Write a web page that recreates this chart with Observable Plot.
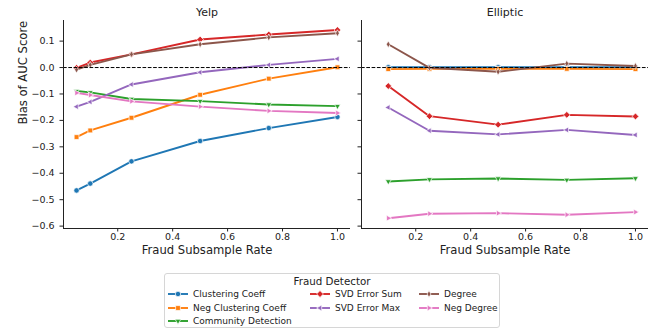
<!DOCTYPE html>
<html>
<head>
<meta charset="utf-8">
<script src="https://cdn.jsdelivr.net/npm/d3@7"></script>
<script src="https://cdn.jsdelivr.net/npm/@observablehq/plot@0.6"></script>
<style>
  html, body { margin: 0; padding: 0; background: #fff; }
  #wrap { position: relative; width: 670px; height: 331px; font-family: "DejaVu Sans", sans-serif; color: #222; }
  #left { position: absolute; left: 0; top: 0; }
  #right { position: absolute; left: 355px; top: 0; }
  #legend { position: absolute; left: 164px; top: 273px; width: 336px; height: 55px; border: 1px solid #d6d6d6; border-radius: 3px; box-sizing: border-box; background: #fff; }
  .lt { position: absolute; font-size: 10.3px; white-space: nowrap; }
  .le { position: absolute; font-size: 9px; white-space: nowrap; line-height: 12px; }
  .lh { position: absolute; }
</style>
</head>
<body>
<div id="wrap">
  <div id="left"></div>
  <div id="right"></div>
  <div id="legend"></div>
</div>
<script>
// ---------------- data ----------------
const detectors = ["Clustering Coeff", "Neg Clustering Coeff", "Community Detection", "SVD Error Sum", "SVD Error Max", "Degree", "Neg Degree"];
const colors = ["#1f77b4", "#ff7f0e", "#2ca02c", "#d62728", "#9467bd", "#8c564b", "#e377c2"];

const yelpRates = [0.05, 0.1, 0.25, 0.5, 0.75, 1.0];
const yelpClustering    = [-0.465, -0.439, -0.355, -0.278, -0.229, -0.187];
const yelpNegClustering = [-0.263, -0.238, -0.190, -0.103, -0.042, 0.001];
const yelpCommunity     = [-0.089, -0.094, -0.119, -0.127, -0.140, -0.146];
const yelpSvdSum        = [-0.001, 0.019, 0.050, 0.106, 0.125, 0.142];
const yelpSvdMax        = [-0.148, -0.130, -0.064, -0.018, 0.010, 0.033];
const yelpDegree        = [-0.008, 0.010, 0.050, 0.088, 0.114, 0.130];
const yelpNegDegree     = [-0.096, -0.104, -0.128, -0.148, -0.164, -0.172];

const ellRates = [0.1, 0.25, 0.5, 0.75, 1.0];
const ellClustering    = [0.001, 0.001, 0.001, 0.001, 0.001];
const ellNegClustering = [-0.006, -0.005, -0.005, -0.005, -0.006];
const ellCommunity     = [-0.431, -0.423, -0.420, -0.425, -0.419];
const ellSvdSum        = [-0.070, -0.184, -0.216, -0.179, -0.185];
const ellSvdMax        = [-0.151, -0.239, -0.253, -0.236, -0.255];
const ellDegree        = [0.088, -0.001, -0.016, 0.015, 0.006];
const ellNegDegree     = [-0.570, -0.553, -0.551, -0.557, -0.547];

const xTicks = [0.2, 0.4, 0.6, 0.8, 1.0];
const yTicks = [-0.6, -0.5, -0.4, -0.3, -0.2, -0.1, 0.0, 0.1];

const yelpSeries = [yelpClustering, yelpNegClustering, yelpCommunity, yelpSvdSum, yelpSvdMax, yelpDegree, yelpNegDegree];
const ellSeries = [ellClustering, ellNegClustering, ellCommunity, ellSvdSum, ellSvdMax, ellDegree, ellNegDegree];

// ---------------- marker symbols ----------------
function poly(ctx, pts) {
  ctx.moveTo(pts[0][0], pts[0][1]);
  for (let i = 1; i < pts.length; i++) ctx.lineTo(pts[i][0], pts[i][1]);
  ctx.closePath();
}
const symDown = { draw(ctx, size) { const R = Math.sqrt(size / Math.PI); poly(ctx, [[0, 1.3 * R], [-1.12 * R, -0.65 * R], [1.12 * R, -0.65 * R]]); } };
const symLeft = { draw(ctx, size) { const R = Math.sqrt(size / Math.PI); poly(ctx, [[-1.3 * R, 0], [0.65 * R, -1.12 * R], [0.65 * R, 1.12 * R]]); } };
const symRight = { draw(ctx, size) { const R = Math.sqrt(size / Math.PI); poly(ctx, [[1.3 * R, 0], [-0.65 * R, -1.12 * R], [-0.65 * R, 1.12 * R]]); } };
const symDiamond = { draw(ctx, size) { const R = Math.sqrt(size / Math.PI); poly(ctx, [[0, -1.3 * R], [1.3 * R, 0], [0, 1.3 * R], [-1.3 * R, 0]]); } };
const symThin = { draw(ctx, size) { const R = Math.sqrt(size / Math.PI); poly(ctx, [[0, -1.3 * R], [0.75 * R, 0], [0, 1.3 * R], [-0.75 * R, 0]]); } };
const symbols = ["circle", "square", symDown, symDiamond, symLeft, symThin, symRight];
const symR = [2.7, 2.7, 2.6, 2.6, 2.6, 2.6, 2.6];

const xDomain = [0.0025, 1.0475];
const yDomain = [-0.609, 0.178];
const fmt = d3.format(".1f");

function seriesMarks(rates, series) {
  const marks = [];
  series.forEach((vals, i) => {
    const data = rates.map((x, j) => ({ x, y: vals[j] }));
    marks.push(Plot.line(data, { x: "x", y: "y", stroke: colors[i], strokeWidth: 1.9 }));
    marks.push(Plot.dot(data, { x: "x", y: "y", fill: colors[i], stroke: "white", strokeWidth: 0.7, r: symR[i], symbol: () => symbols[i] }));
  });
  return marks;
}

function panel({ title, rates, series, width, marginLeft, marginRight, showYLabels }) {
  return Plot.plot({
    width, height: 260,
    marginLeft, marginRight, marginTop: 20, marginBottom: 32,
    x: { domain: xDomain },
    y: { domain: yDomain },
    symbol: { type: "identity" },
    style: { fontFamily: "DejaVu Sans, sans-serif", fontSize: "9.5px", color: "#222", background: "transparent" },
    marks: [
      ...seriesMarks(rates, series),
      Plot.ruleY([0], { stroke: "black", strokeWidth: 1, strokeDasharray: "3.7,1.6" }),
      Plot.ruleX([xDomain[0]], { stroke: "#222", strokeWidth: 1 }),
      Plot.ruleY([yDomain[0]], { stroke: "#222", strokeWidth: 1 }),
      Plot.axisX({ ticks: xTicks, tickSize: 3.5, tickPadding: 1.5, tickFormat: fmt, label: null, stroke: "#222" }),
      Plot.axisY({ ticks: yTicks, tickSize: 3.5, tickFormat: showYLabels ? fmt : () => "", label: null, stroke: "#222" }),
      Plot.text([title], { text: d => d, frameAnchor: "top", lineAnchor: "middle", dy: -8.5, fontSize: 11, fill: "#222" }),
      Plot.text(["Fraud Subsample Rate"], { text: d => d, frameAnchor: "bottom", lineAnchor: "middle", dy: 22, fontSize: 11.6, fill: "#222" }),
      ...(showYLabels ? [Plot.text(["Bias of AUC Score"], { text: d => d, frameAnchor: "left", lineAnchor: "middle", dx: -40, rotate: -90, fontSize: 11.6, fill: "#222" })] : [])
    ]
  });
}

document.getElementById("left").append(panel({ title: "Yelp", rates: yelpRates, series: yelpSeries, width: 355, marginLeft: 63, marginRight: 5, showYLabels: true }));
document.getElementById("right").append(panel({ title: "Elliptic", rates: ellRates, series: ellSeries, width: 315, marginLeft: 6, marginRight: 22, showYLabels: false }));

// ---------------- legend ----------------
const legend = document.getElementById("legend");
const title = document.createElement("div");
title.className = "lt";
title.textContent = "Fraud Detector";
title.style.left = "0"; title.style.width = "100%"; title.style.textAlign = "center"; title.style.top = "1px";
legend.append(title);

const colX = [2, 144, 253];
const rowY = [20.3, 34, 47.3];
const layout = [[0, 0], [0, 1], [0, 2], [1, 0], [1, 1], [2, 0], [2, 1]];
detectors.forEach((name, i) => {
  const [c, r] = layout[i];
  const svg = d3.create("svg").attr("class", "lh").attr("width", 22).attr("height", 12)
    .style("left", colX[c] + "px").style("top", (rowY[r] - 6) + "px");
  svg.append("line").attr("x1", 1).attr("x2", 21).attr("y1", 6).attr("y2", 6).attr("stroke", colors[i]).attr("stroke-width", 1.9);
  const sym = typeof symbols[i] === "string" ? (symbols[i] === "circle" ? d3.symbolCircle : d3.symbolSquare) : symbols[i];
  const R = symR[i];
  svg.append("path").attr("d", d3.symbol(sym, R * R * Math.PI)()).attr("transform", "translate(11,6)")
    .attr("fill", colors[i]).attr("stroke", "white").attr("stroke-width", 0.7);
  legend.append(svg.node());
  const lab = document.createElement("div");
  lab.className = "le";
  lab.textContent = name;
  lab.style.left = (colX[c] + 26) + "px";
  lab.style.top = (rowY[r] - 6) + "px";
  legend.append(lab);
});
</script>
</body>
</html>
